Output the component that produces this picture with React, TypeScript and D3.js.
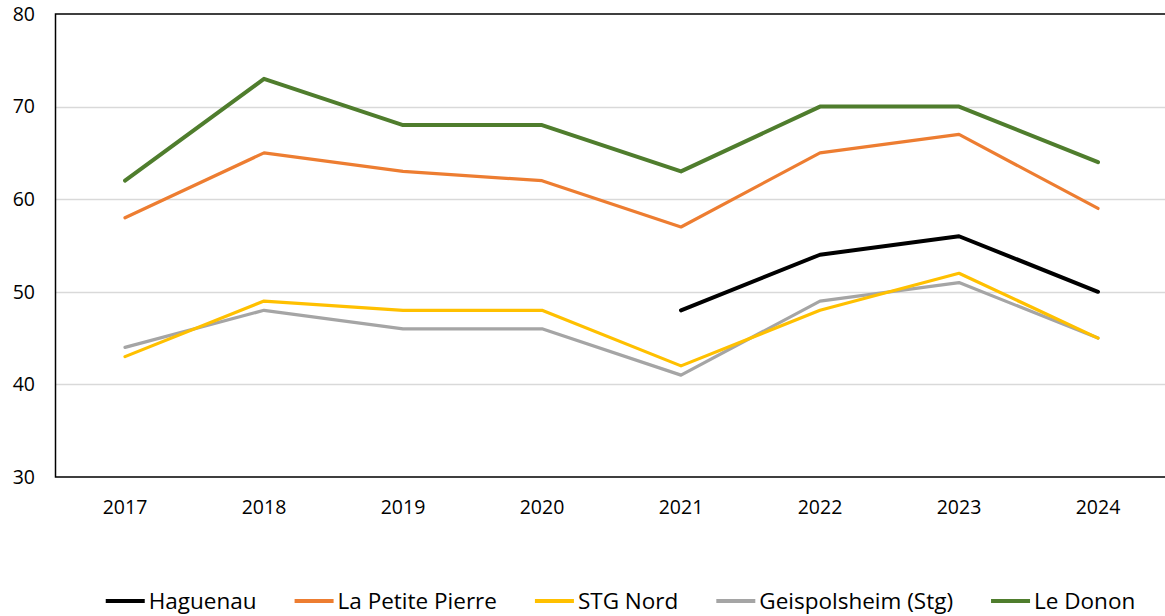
import React, { useEffect, useRef } from "react";
import * as d3 from "d3";

const years = ["2017", "2018", "2019", "2020", "2021", "2022", "2023", "2024"];
const haguenau: (number | null)[] = [null, null, null, null, 48, 54, 56, 50];
const laPetitePierre = [58, 65, 63, 62, 57, 65, 67, 59];
const stgNord = [43, 49, 48, 48, 42, 48, 52, 45];
const geispolsheim = [44, 48, 46, 46, 41, 49, 51, 45];
const leDonon = [62, 73, 68, 68, 63, 70, 70, 64];
const yTicks = [30, 40, 50, 60, 70, 80];

const seriesList = [
  { name: "Haguenau", values: haguenau, color: "#000000", width: 4 },
  { name: "La Petite Pierre", values: laPetitePierre, color: "#ED7D31", width: 3.2 },
  { name: "STG Nord", values: stgNord, color: "#FFC000", width: 3.2 },
  { name: "Geispolsheim (Stg)", values: geispolsheim, color: "#A5A5A5", width: 3.2 },
  { name: "Le Donon", values: leDonon, color: "#4F7D2D", width: 4 },
];
const drawOrder = [4, 1, 0, 3, 2];

const W = 1165;
const H = 616;
const FONT = "'Open Sans', sans-serif";

export default function App() {
  const ref = useRef<SVGSVGElement>(null);

  useEffect(() => {
    const svg = d3.select(ref.current);
    svg.selectAll("*").remove();

    const left = 55.5;
    const right = 1167.5;
    const top = 14;
    const bottom = 477;

    const x = d3.scaleBand<string>().domain(years).range([left, right]);
    const y = d3.scaleLinear().domain([30, 80]).range([bottom, top]);
    const cx = (yr: string) => (x(yr) as number) + x.bandwidth() / 2;

    svg
      .append("g")
      .selectAll("line")
      .data(yTicks.filter((t) => t !== 30 && t !== 80))
      .join("line")
      .attr("x1", left)
      .attr("x2", right)
      .attr("y1", (d) => Math.round(y(d)) + 0.5)
      .attr("y2", (d) => Math.round(y(d)) + 0.5)
      .attr("stroke", "#D9D9D9")
      .attr("stroke-width", 1.5);

    svg
      .append("path")
      .attr("d", `M${right},${top}H${left}V${bottom}H${right}`)
      .attr("fill", "none")
      .attr("stroke", "#000")
      .attr("stroke-width", 1.5);

    svg
      .append("g")
      .selectAll("text")
      .data(yTicks)
      .join("text")
      .attr("x", 35)
      .attr("y", (d) => y(d))
      .attr("dy", "0.35em")
      .attr("text-anchor", "end")
      .attr("font-family", FONT)
      .attr("font-size", 19.5)
      .attr("fill", "#000")
      .text((d) => String(d));

    svg
      .append("g")
      .selectAll("text")
      .data(years)
      .join("text")
      .attr("x", (d) => cx(d))
      .attr("y", 507)
      .attr("dy", "0.35em")
      .attr("text-anchor", "middle")
      .attr("font-family", FONT)
      .attr("font-size", 19.5)
      .attr("fill", "#000")
      .text((d) => d);

    const line = d3
      .line<{ yr: string; v: number | null }>()
      .defined((d) => d.v != null)
      .x((d) => cx(d.yr))
      .y((d) => y(d.v as number));

    drawOrder.forEach((i) => {
      const s = seriesList[i];
      const pts = years.map((yr, j) => ({ yr, v: s.values[j] }));
      svg
        .append("path")
        .attr("d", line(pts) as string)
        .attr("fill", "none")
        .attr("stroke", s.color)
        .attr("stroke-width", s.width)
        .attr("stroke-linejoin", "round")
        .attr("stroke-linecap", "round");
    });

    const lg = svg.append("g");
    const sampleW = 39;
    const sampleGap = 4;
    const itemGap = 38;
    const items = seriesList.map((s) => {
      const g = lg.append("g");
      g.append("line")
        .attr("x1", 0)
        .attr("x2", sampleW)
        .attr("y1", 0)
        .attr("y2", 0)
        .attr("stroke", s.color)
        .attr("stroke-width", 4);
      const t = g
        .append("text")
        .attr("x", sampleW + sampleGap)
        .attr("y", 0)
        .attr("dy", "0.35em")
        .attr("font-family", FONT)
        .attr("font-size", 22.5)
        .attr("fill", "#000")
        .text(s.name);
      const tw = (t.node() as SVGTextElement).getComputedTextLength();
      return { g, w: sampleW + sampleGap + tw };
    });
    const total = items.reduce((a, b) => a + b.w, 0) + itemGap * (items.length - 1);
    let pos = 620.5 - total / 2;
    items.forEach((it) => {
      it.g.attr("transform", `translate(${pos},601)`);
      pos += it.w + itemGap;
    });
  }, []);

  return (
    <svg
      ref={ref}
      width={W}
      height={H}
      style={{ position: "absolute", left: 0, top: 0, background: "#fff" }}
    />
  );
}
